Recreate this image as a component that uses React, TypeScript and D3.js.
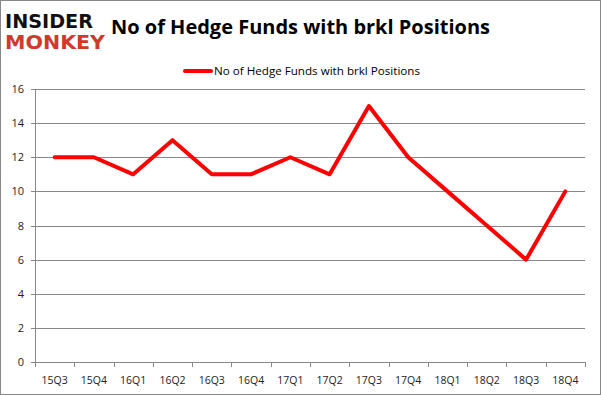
import React from 'react'
import * as d3 from 'd3'

const quarters = ['15Q3', '15Q4', '16Q1', '16Q2', '16Q3', '16Q4', '17Q1', '17Q2', '17Q3', '17Q4', '18Q1', '18Q2', '18Q3', '18Q4']
const hedgeFunds = [12, 12, 11, 13, 11, 11, 12, 11, 15, 12, 10, 8, 6, 10]
const yTicks = [0, 2, 4, 6, 8, 10, 12, 14, 16]

const seriesName = 'No of Hedge Funds with brkl Positions'
const font = 'Open Sans, Liberation Sans, sans-serif'

const App: React.FC = () => {
    const width = 601
    const height = 395
    const margin = { top: 89, right: 16, bottom: 33, left: 35 }

    // band scale so ticks sit between categories and points in the middle
    const x = d3.scaleBand<string>()
        .domain(quarters)
        .range([margin.left, width - margin.right])
        .padding(0)
    const y = d3.scaleLinear()
        .domain([0, 16])
        .range([height - margin.bottom, margin.top])

    const line = d3.line<number>()
        .x((_, i) => (x(quarters[i]) ?? 0) + x.bandwidth() / 2)
        .y(d => y(d))

    const x0 = margin.left
    const x1 = width - margin.right
    const yBase = y(0)

    return (
        <svg width={width} height={height} style={{ position: 'absolute', left: 0, top: 0, background: '#fff' }}>
            <rect x={0.5} y={0.5} width={width - 1} height={height - 1} fill="#fff" stroke="#888" />

            {/* logo */}
            <text x={5} y={28} fontFamily="DejaVu Sans, sans-serif" fontWeight="bold" fontSize={19} fill="#111" textLength={88} lengthAdjust="spacingAndGlyphs">INSIDER</text>
            <text x={5} y={49} fontFamily="DejaVu Sans, sans-serif" fontWeight="bold" fontSize={19} fill="#d0392b" textLength={100} lengthAdjust="spacingAndGlyphs">MONKEY</text>

            {/* title */}
            <text x={111} y={34} fontFamily={font} fontWeight="bold" fontSize={20} fill="#000" textLength={379} lengthAdjust="spacingAndGlyphs">{seriesName}</text>

            {/* legend */}
            <line x1={185} x2={211} y1={71} y2={71} stroke="#ff0000" strokeWidth={4} strokeLinecap="round" />
            <text x={214} y={75} fontFamily={font} fontSize={11.5} fill="#000" textLength={206} lengthAdjust="spacingAndGlyphs">{seriesName}</text>

            {/* gridlines */}
            {yTicks.map(t => (
                <line key={t} x1={x0} x2={x1} y1={Math.round(y(t)) + 0.5} y2={Math.round(y(t)) + 0.5} stroke="#888" />
            ))}

            {/* y axis */}
            <line x1={x0 + 0.5} x2={x0 + 0.5} y1={y(16)} y2={yBase} stroke="#888" />
            {yTicks.map(t => (
                <g key={t}>
                    <line x1={x0 - 4} x2={x0} y1={Math.round(y(t)) + 0.5} y2={Math.round(y(t)) + 0.5} stroke="#888" />
                    <text x={x0 - 11} y={y(t) + 4} textAnchor="end" fontFamily={font} fontSize={11} fill="#222">{t}</text>
                </g>
            ))}

            {/* x axis */}
            <line x1={x0} x2={x1} y1={Math.round(yBase) + 0.5} y2={Math.round(yBase) + 0.5} stroke="#888" />
            {quarters.map((q, i) => {
                const bx = x(q) ?? 0
                return (
                    <g key={q}>
                        <line x1={Math.round(bx) + 0.5} x2={Math.round(bx) + 0.5} y1={yBase} y2={yBase + 5} stroke="#888" />
                        {i === quarters.length - 1 && (
                            <line x1={Math.round(bx + x.bandwidth()) + 0.5} x2={Math.round(bx + x.bandwidth()) + 0.5} y1={yBase} y2={yBase + 5} stroke="#888" />
                        )}
                        <text x={bx + x.bandwidth() / 2} y={yBase + 22} textAnchor="middle" fontFamily={font} fontSize={10.5} fill="#222">{q}</text>
                    </g>
                )
            })}

            {/* series */}
            <path d={line(hedgeFunds) ?? ''} fill="none" stroke="#ff0000" strokeWidth={4} strokeLinejoin="round" strokeLinecap="round" />
        </svg>
    )
}

export default App
